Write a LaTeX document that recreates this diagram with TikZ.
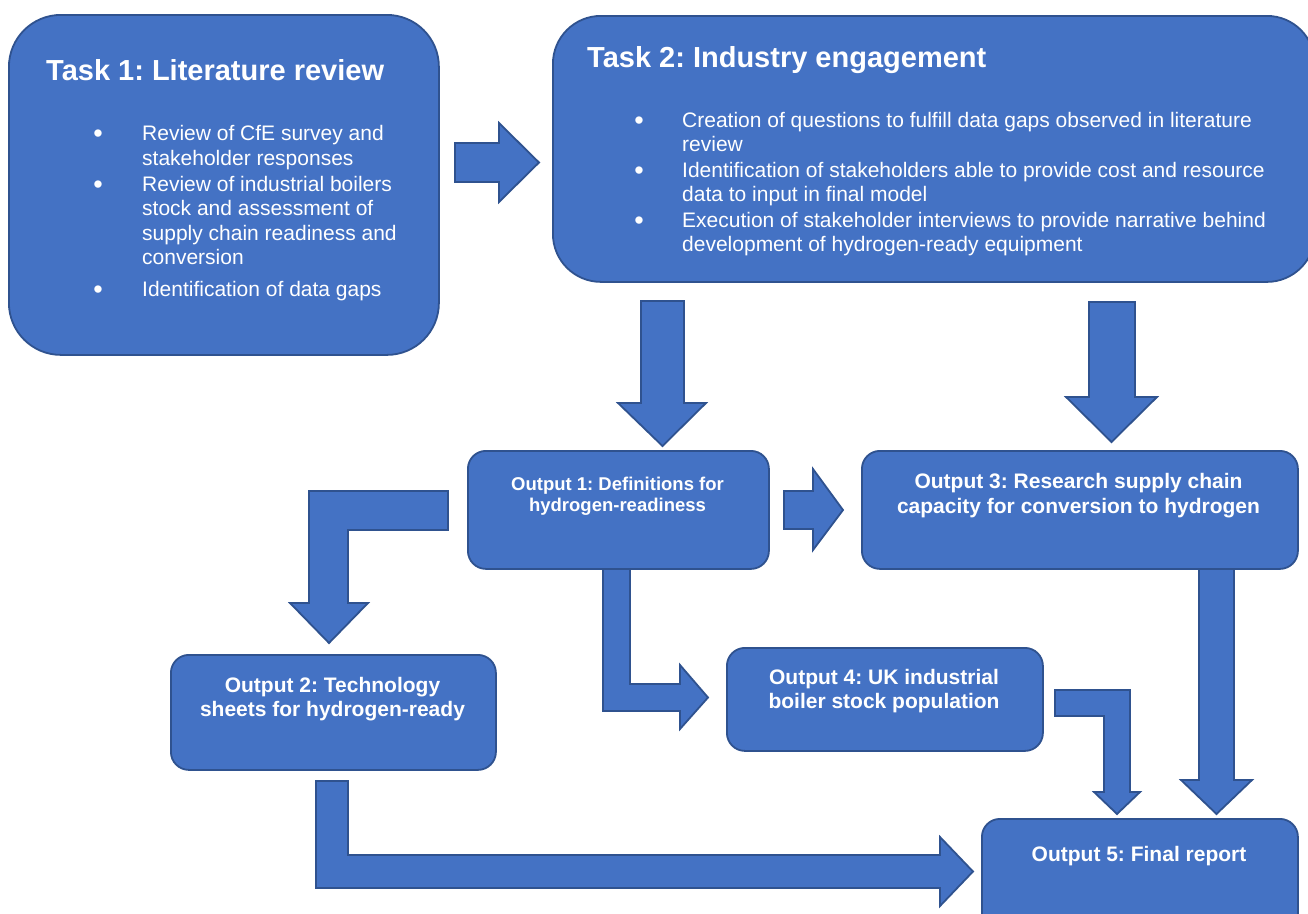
\documentclass[tikz,border=0pt]{standalone}
\usepackage{fontspec}
\setmainfont{Liberation Sans}
\definecolor{boxblue}{HTML}{4472C4}
\definecolor{edgeblue}{HTML}{2F528F}
\begin{document}
\frenchspacing
\begin{tikzpicture}[x=1pt,y=-1pt,
  blk/.style={fill=boxblue, draw=edgeblue, line width=1.8pt, line join=miter},
  bigbox/.style={blk, rounded corners=52pt, anchor=north west, inner sep=0pt},
  outbox/.style={blk, rounded corners=18pt, anchor=north west, inner sep=0pt},
  ttl/.style={text=white, font=\bfseries\fontsize{29}{33}\selectfont, anchor=base west, inner sep=0pt},
  bul/.style={text=white, font=\fontsize{21}{24}\selectfont, anchor=base west, inner sep=0pt},
  dot/.style={text=white, font=\fontsize{27}{30}\selectfont, anchor=base, inner sep=0pt},
  olab/.style={text=white, font=\bfseries\fontsize{21}{24}\selectfont, anchor=base, inner sep=0pt},
  olabs/.style={text=white, font=\bfseries\fontsize{18.5}{22}\selectfont, anchor=base, inner sep=0pt}]
\useasboundingbox (0,0) rectangle (1308,913);
\clip (0,0) rectangle (1308,913);
\fill[white] (0,0) rectangle (1308,913);

% ---- block arrows ----
\draw[blk] (455,143) -- (499,143) -- (499,123) -- (539,162.5) -- (499,202) -- (499,182) -- (455,182) -- cycle;
\draw[blk] (641,301) -- (684,301) -- (684,403) -- (706,403) -- (662.5,446) -- (618,403) -- (641,403) -- cycle;
\draw[blk] (1089,302) -- (1135,302) -- (1135,397) -- (1157,397) -- (1111.5,442) -- (1066,397) -- (1089,397) -- cycle;
\draw[blk] (784,491) -- (813,491) -- (813,469) -- (843,510) -- (813,550) -- (813,529) -- (784,529) -- cycle;
\draw[blk] (448,491) -- (448,530) -- (348,530) -- (348,603) -- (368,603) -- (329,643) -- (290,603) -- (309,603) -- (309,491) -- cycle;
\draw[blk] (603,566) -- (630,566) -- (630,684) -- (680,684) -- (680,665) -- (708,697.5) -- (680,729) -- (680,711) -- (603,711) -- cycle;
\draw[blk] (1055,690) -- (1130,690) -- (1130,792) -- (1140,792) -- (1117,814) -- (1094,792) -- (1104,792) -- (1104,716) -- (1055,716) -- cycle;
\draw[blk] (1199,567) -- (1234,567) -- (1234,780) -- (1252,780) -- (1216.5,814) -- (1181,780) -- (1199,780) -- cycle;
\draw[blk] (316,781) -- (348,781) -- (348,855) -- (940,855) -- (940,837) -- (973,871.5) -- (940,906) -- (940,888) -- (316,888) -- cycle;

% ---- boxes ----
\node[bigbox, minimum width=430pt, minimum height=340pt] (t1) at (8,14) {};
\node[bigbox, rounded corners=48pt, minimum width=762pt, minimum height=266pt] (t2) at (552,15) {};
\node[outbox, minimum width=301pt, minimum height=118pt] (o1) at (467,450) {};
\node[outbox, minimum width=436pt, minimum height=118pt] (o3) at (861,450) {};
\node[outbox, minimum width=325pt, minimum height=115pt] (o2) at (170,654) {};
\node[outbox, minimum width=316pt, minimum height=103pt] (o4) at (726,647) {};
\node[outbox, minimum width=316pt, minimum height=130pt] (o5) at (981,818) {};

% ---- Task 1 text ----
\node[ttl] (t1t) at (46,80) {Task 1: Literature review};
\node[dot] (t1d1) at (98,142.5) {•};
\node[bul] (t1a) at (142,140) {Review of CfE survey and};
\node[bul] (t1b) at (142,165) {stakeholder responses};
\node[dot] (t1d2) at (98,193.5) {•};
\node[bul] (t1c) at (142,191) {Review of industrial boilers};
\node[bul] (t1e) at (142,215.5) {stock and assessment of};
\node[bul] (t1f) at (142,240) {supply chain readiness and};
\node[bul] (t1g) at (142,264.5) {conversion};
\node[dot] (t1d3) at (98,298.5) {•};
\node[bul] (t1h) at (142,296) {Identification of data gaps};

% ---- Task 2 text ----
\node[ttl] (t2t) at (587,67) {Task 2: Industry engagement};
\node[dot] (t2d1) at (639,129.5) {•};
\node[bul] (t2a) at (682,127) {Creation of questions to fulfill data gaps observed in literature};
\node[bul] (t2b) at (682,151) {review};
\node[dot] (t2d2) at (639,179.5) {•};
\node[bul] (t2c) at (682,177) {Identification of stakeholders able to provide cost and resource};
\node[bul] (t2e) at (682,201) {data to input in final model};
\node[dot] (t2d3) at (639,229.5) {•};
\node[bul] (t2f) at (682,227) {Execution of stakeholder interviews to provide narrative behind};
\node[bul] (t2g) at (682,251) {development of hydrogen-ready equipment};

% ---- Output labels ----
\node[olabs] (o1a) at (617.5,490) {Output 1: Definitions for};
\node[olabs] (o1b) at (617.5,511) {hydrogen-readiness};
\node[olab] (o3a) at (1078.5,488.5) {Output 3: Research supply chain};
\node[olab] (o3b) at (1078.5,513) {capacity for conversion to hydrogen};
\node[olab] (o2a) at (332.5,692) {Output 2: Technology};
\node[olab] (o2b) at (332.5,716) {sheets for hydrogen-ready};
\node[olab] (o4a) at (884,684) {Output 4: UK industrial};
\node[olab] (o4b) at (884,708) {boiler stock population};
\node[olab] (o5a) at (1139,861) {Output 5: Final report};
\end{tikzpicture}
\end{document}
